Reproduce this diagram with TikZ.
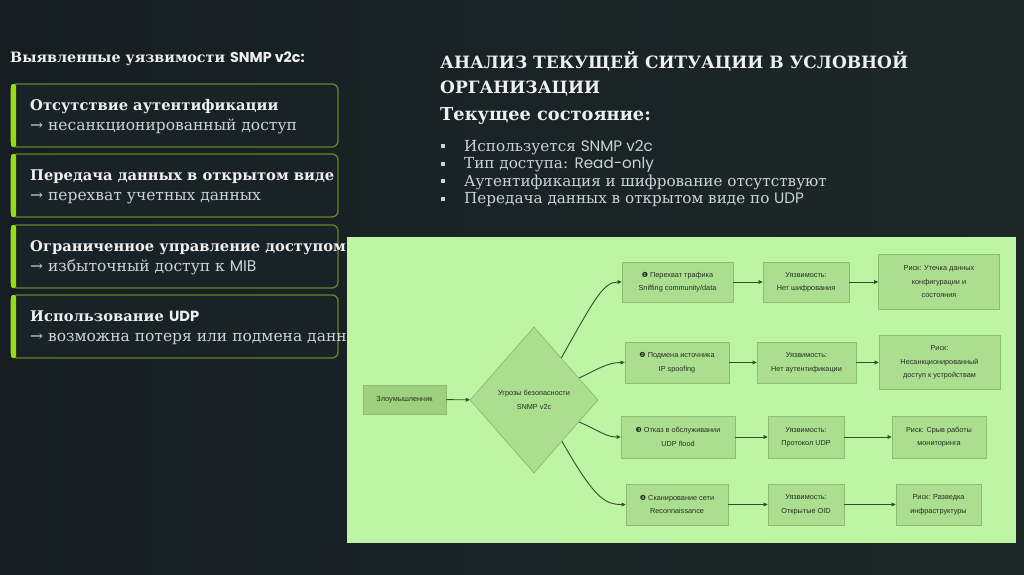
\documentclass[tikz,border=0pt]{standalone}
\usepackage{fontspec}
\setmainfont{DejaVu Serif}
\newfontfamily\popfont{Poppins}
\newfontfamily\flowfont{Liberation Sans}
\newfontfamily\dingfont{DejaVu Sans}
\usetikzlibrary{shapes.geometric}
\usetikzlibrary{arrows.meta}

\definecolor{slidebg}{RGB}{22,30,35}
\definecolor{slidebgr}{RGB}{30,40,39}
\definecolor{limebar}{RGB}{150,222,20}
\definecolor{olive}{RGB}{104,130,42}
\definecolor{cardbg}{RGB}{25,34,38}
\definecolor{panelgreen}{RGB}{189,245,165}
\definecolor{boxgreen}{RGB}{171,222,143}
\definecolor{boxline}{RGB}{140,190,110}
\definecolor{startgreen}{RGB}{158,208,128}
\definecolor{flowline}{RGB}{50,78,40}
\definecolor{flowtext}{RGB}{38,46,34}
\definecolor{softwhite}{RGB}{238,240,240}
\definecolor{softgray}{RGB}{205,210,212}

\tikzset{
  card/.style={draw=olive, line width=1.3pt, fill=cardbg, rounded corners=6pt},
  flowbox/.style={draw=boxline, fill=boxgreen, line width=0.8pt, align=center, text=flowtext,
    font=\flowfont\fontsize{7.3}{13.5}\selectfont, inner sep=0pt},
  arr/.style={draw=flowline, line width=0.9pt, -{Triangle[length=4pt,width=3.8pt]}},
}
\newcommand{\dnum}[1]{{\dingfont\fontsize{7}{7}\selectfont #1}}

\begin{document}
\begin{tikzpicture}[x=1pt,y=-1pt]
    \useasboundingbox (0,0) rectangle (1024,574);
    \shade[left color=slidebg, right color=slidebgr] (0,0) rectangle (1024,574);

    %%% LEFT PANEL

    \node[anchor=base west, text=softwhite, inner sep=0pt, font=\bfseries\fontsize{14.3}{16}\selectfont] (lefttitle) at (10,62)
        {Выявленные уязвимости {\popfont SNMP v2c:}};

    % Cards
    \foreach \t/\h/\s [count=\i] in {84/{Отсутствие аутентификации}/{несанкционированный доступ},
            154/{Передача данных в открытом виде}/{перехват учетных данных},
            225/{Ограниченное управление доступом}/{избыточный доступ к {\popfont MIB}},
            295/{Использование {\popfont UDP}}/{возможна потеря или подмена данных}} {
        \draw[card] (11,\t) rectangle (338,\t+63);
        \fill[limebar, rounded corners=2pt] (11,\t) rectangle (16,\t+63);
        \node[anchor=base west, text=softwhite, inner sep=0pt, font=\bfseries\fontsize{14.7}{16}\selectfont] (head\i) at (30,\t+26) {\h};
        \node[anchor=base west, text=softgray, inner sep=0pt, font=\fontsize{15.5}{17}\selectfont] (sub\i) at (30,\t+46) {→ \s};
    }

    %%% RIGHT TEXT

    \node[anchor=base west, text=softwhite, inner sep=0pt, font=\bfseries\fontsize{17}{20}\selectfont] (title1) at (440,68)
        {АНАЛИЗ ТЕКУЩЕЙ СИТУАЦИИ В УСЛОВНОЙ};
    \node[anchor=base west, text=softwhite, inner sep=0pt, font=\bfseries\fontsize{17}{20}\selectfont] (title2) at (440,93)
        {ОРГАНИЗАЦИИ};
    \node[anchor=base west, text=softwhite, inner sep=0pt, font=\bfseries\fontsize{17.8}{20}\selectfont] (state) at (440,120)
        {Текущее состояние:};

    \foreach \y/\txt [count=\i] in {151/{Используется {\popfont SNMP v2c}},
            168.5/{Тип доступа: {\popfont Read-only}},
            186/{Аутентификация и шифрование отсутствуют},
            203.5/{Передача данных в открытом виде по {\popfont UDP}}} {
        \fill[softgray] (440.5,\y-7) rectangle (444.5,\y-3);
        \node[anchor=base west, text=softgray, inner sep=0pt, font=\fontsize{15.2}{17}\selectfont] (item\i) at (464,\y) {\txt};
    }

    %%% DIAGRAM

    \fill[panelgreen] (347,237) rectangle (1016,543);

    \node[flowbox, fill=startgreen, minimum width=83pt, minimum height=29pt] (att) at (404.5,399.5) {Злоумышленник};
    \node[flowbox, diamond, minimum width=128pt, minimum height=146pt] (thr) at (534,400)
        {Угрозы безопасности\\SNMP v2c};

    % Threats
    \node[flowbox, minimum width=111pt, minimum height=40pt] (r1a) at (677.5,282)
        {\dnum{❶} Перехват трафика\\Sniffing community/data};
    \node[flowbox, minimum width=104pt, minimum height=41pt] (r2a) at (677,362.5)
        {\dnum{❷} Подмена источника\\IP spoofing};
    \node[flowbox, minimum width=114pt, minimum height=42pt] (r3a) at (678,437)
        {\dnum{❸} Отказ в обслуживании\\UDP flood};
    \node[flowbox, minimum width=102pt, minimum height=41pt] (r4a) at (677,504.5)
        {\dnum{❹} Сканирование сети\\Reconnaissance};

    % Vulnerabilities
    \node[flowbox, minimum width=86pt, minimum height=40pt] (r1b) at (806,282) {Уязвимость:\\Нет шифрования};
    \node[flowbox, minimum width=99pt, minimum height=41pt] (r2b) at (806.5,362.5) {Уязвимость:\\Нет аутентификации};
    \node[flowbox, minimum width=76pt, minimum height=42pt] (r3b) at (806,437) {Уязвимость:\\Протокол UDP};
    \node[flowbox, minimum width=76pt, minimum height=41pt] (r4b) at (806,504.5) {Уязвимость:\\Открытые OID};

    % Risks
    \node[flowbox, minimum width=121pt, minimum height=55pt] (r1c) at (939,282)
        {Риск: Утечка данных\\конфигурации и\\состояния};
    \node[flowbox, minimum width=121pt, minimum height=54pt] (r2c) at (939.5,362.5)
        {Риск:\\Несанкционированный\\доступ к устройствам};
    \node[flowbox, minimum width=94pt, minimum height=42pt] (r3c) at (939,437) {Риск: Срыв работы\\мониторинга};
    \node[flowbox, minimum width=85pt, minimum height=41pt] (r4c) at (938.5,504.5) {Риск: Разведка\\инфраструктуры};

    % Connectors
    \draw[arr] (att) -- (thr);
    \draw[arr] (thr.57) .. controls (594,300) and (603,282) .. (r1a.west);
    \draw[arr] (thr.26) .. controls (600,368) and (608,362.5) .. (r2a.west);
    \draw[arr] (thr.-26) .. controls (600,431) and (606,437) .. (r3a.west);
    \draw[arr] (thr.-56) .. controls (594,497) and (604,504.5) .. (r4a.west);
    \foreach \r in {1,2,3,4} {
        \draw[arr] (r\r a) -- (r\r b);
        \draw[arr] (r\r b) -- (r\r c);
    }
\end{tikzpicture}
\end{document}
